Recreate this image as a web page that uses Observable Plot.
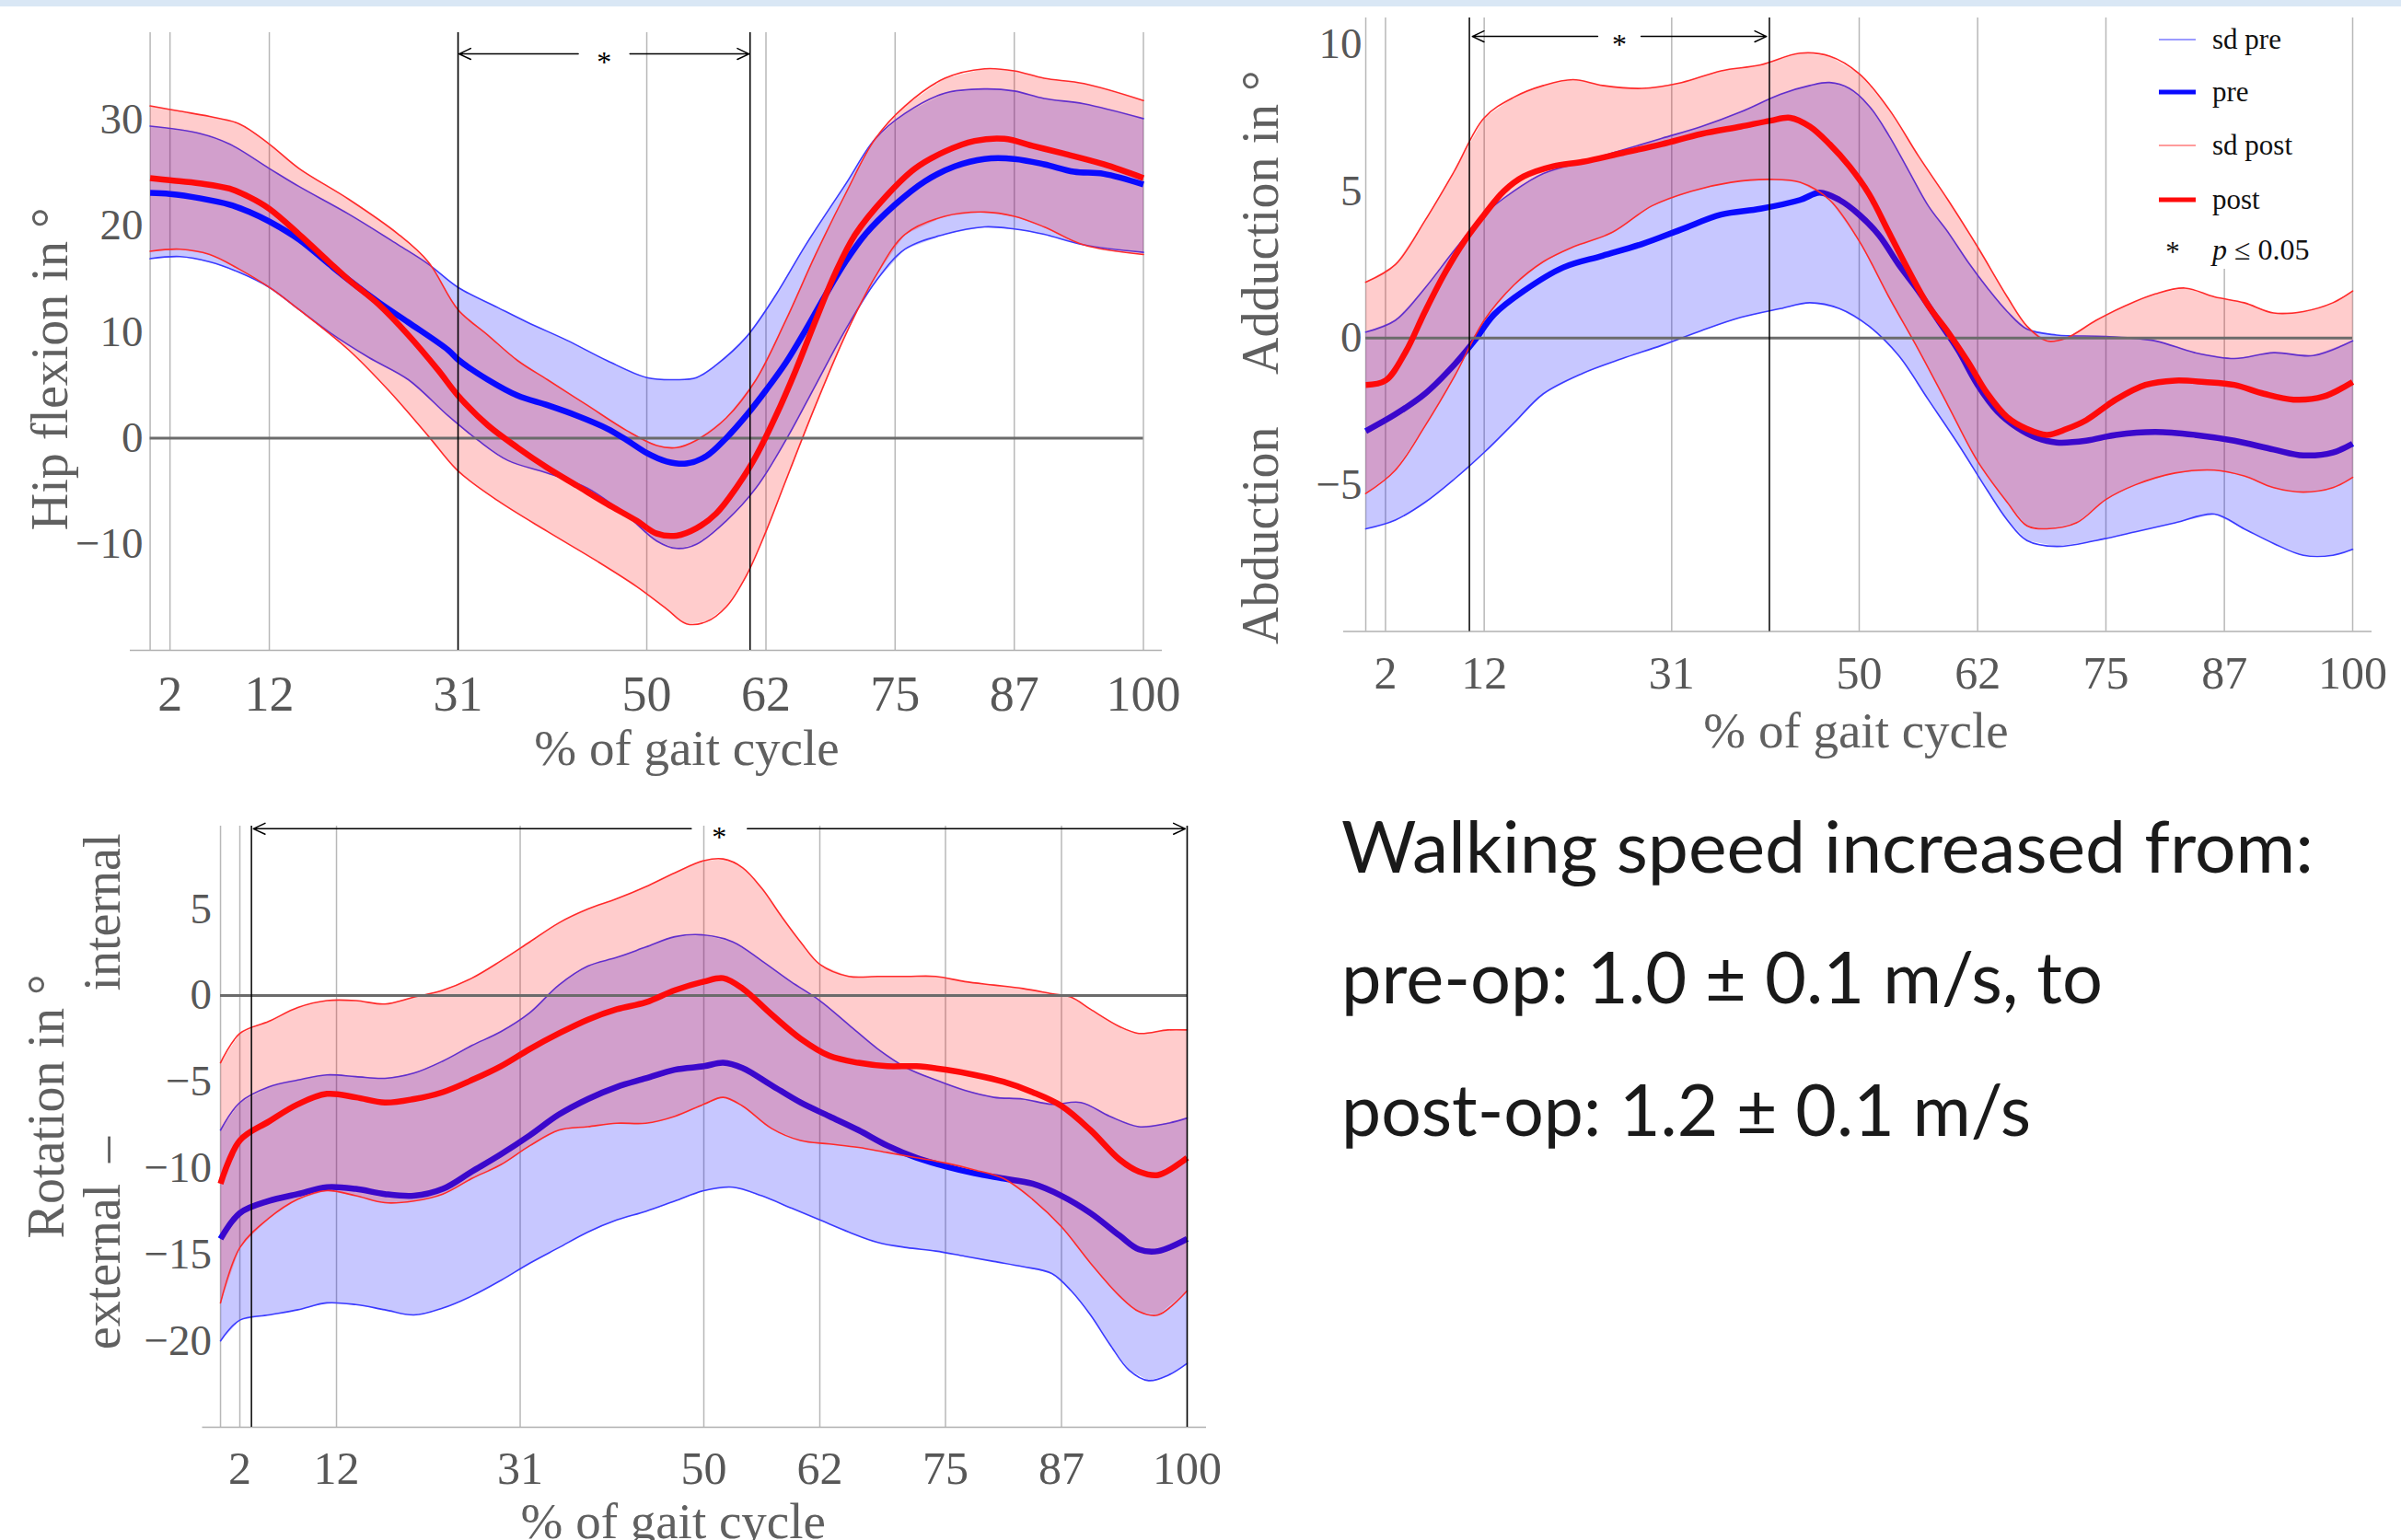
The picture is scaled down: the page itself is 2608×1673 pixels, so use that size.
<!DOCTYPE html>
<html>
<head>
<meta charset="utf-8">
<script src="https://cdn.jsdelivr.net/npm/d3@7"></script>
<script src="https://cdn.jsdelivr.net/npm/@observablehq/plot@0.6"></script>
<style>
  html, body { margin: 0; padding: 0; background: #ffffff; }
  body { width: 2608px; height: 1673px; position: relative; overflow: hidden; }
  .panel { position: absolute; }
  .strip { position: absolute; left: 0; top: 0; width: 2608px; height: 7px; background: #d9e7f5; }
</style>
</head>
<body>
<div class="strip"></div>
<div id="p1" class="panel" style="left:0px;top:0px"></div>
<div id="p2" class="panel" style="left:1300px;top:0px"></div>
<div id="p3" class="panel" style="left:0px;top:850px"></div>
<svg id="legend" style="position:absolute;left:2290px;top:16px" width="262" height="276"></svg>
<svg id="note" style="position:absolute;left:0;top:0;pointer-events:none" width="2608" height="1673"></svg>
<script>
// ---------------- DATA ----------------
const gridX = [0, 2, 12, 31, 50, 62, 75, 87, 100];
const tickX = [2, 12, 31, 50, 62, 75, 87, 100];

// Panel 1: hip flexion
const hipTicks = [-10, 0, 10, 20, 30];
const hipSig = [31, 60.4];
const hipPre = [[0,23.1],[2,23.0],[5,22.6],[8,22.0],[10,21.3],[12,20.4],[15,18.7],[18,16.4],[20,14.9],[23,12.8],[26,10.9],[30,8.3],[31,7.4],[34,5.5],[37,4.0],[40,3.1],[43,2.1],[46,0.9],[48,-0.2],[50,-1.4],[52,-2.2],[54,-2.4],[56,-1.7],[58,0],[60,2.1],[62,4.5],[64,7.1],[66,10.2],[68,13.5],[70,16.6],[72,19.2],[75,22.0],[78,24.2],[81,25.6],[84,26.3],[87,26.3],[90,25.8],[93,25.1],[96,24.9],[100,23.9]];
const hipPost = [[0,24.5],[2,24.3],[5,24.0],[8,23.5],[10,22.7],[12,21.6],[15,19.2],[18,16.6],[20,14.9],[23,12.6],[26,9.7],[29,6.4],[31,4.0],[34,1.2],[37,-0.9],[40,-2.8],[43,-4.5],[46,-6.2],[49,-7.8],[51,-9.0],[53,-9.2],[55,-8.5],[57,-7.1],[59,-4.7],[61,-1.7],[63,2.1],[65,6.4],[67,11.1],[69,15.6],[71,19.2],[74,22.7],[77,25.4],[80,27.0],[83,28.0],[86,28.2],[89,27.5],[92,26.8],[96,25.8],[100,24.5]];
const hipPreUp = [[0,29.4],[5,28.7],[8,27.7],[12,25.4],[15,23.7],[20,21.1],[25,18.2],[28,16.4],[31,14.2],[35,12.3],[38,10.9],[42,9.2],[46,7.3],[50,5.7],[53,5.5],[55,5.7],[57,6.9],[60,9.5],[63,13.5],[66,18.2],[70,23.9],[73,28.2],[76,30.6],[80,32.5],[84,32.9],[87,32.7],[90,32.0],[94,31.5],[100,30.1]];
const hipPreLo = [[0,16.9],[3,17.1],[6,16.6],[9,15.6],[12,14.2],[15,12.1],[18,10.0],[22,7.6],[26,5.5],[30,2.1],[33,-0.2],[36,-2.1],[40,-3.3],[44,-4.7],[48,-7.3],[51,-9.7],[53,-10.4],[55,-10.0],[58,-7.8],[61,-4.7],[64,-0.2],[67,5.0],[70,10.2],[73,14.7],[76,17.8],[80,19.2],[84,19.9],[87,19.7],[90,19.2],[94,18.2],[100,17.5]];
const hipPostUp = [[0,31.3],[3,30.8],[6,30.3],[9,29.6],[12,27.7],[15,25.4],[20,22.5],[25,19.2],[28,16.6],[31,12.1],[34,9.7],[37,7.3],[40,5.5],[44,3.1],[48,0.7],[51,-0.7],[53,-0.9],[55,-0.2],[58,1.9],[61,5.5],[64,11.1],[67,17.3],[70,23.0],[73,28.2],[76,31.3],[80,33.9],[84,34.8],[87,34.6],[90,33.9],[94,33.4],[100,31.8]];
const hipPostLo = [[0,17.6],[3,17.8],[6,17.3],[9,15.9],[12,14.2],[15,12.1],[20,8.3],[24,4.5],[28,0.2],[31,-3.1],[35,-5.9],[40,-8.8],[45,-11.6],[49,-14.0],[52,-16.1],[54,-17.5],[56,-17.3],[58,-15.9],[60,-13.0],[62,-8.8],[64,-4.0],[67,3.1],[70,9.7],[73,15.2],[76,19.2],[80,20.9],[84,21.3],[87,20.9],[90,19.9],[94,18.2],[100,17.3]];

// Panel 2: abduction / adduction
const abdTicks = [-5, 0, 5, 10];
const abdSig = [10.5, 40.9];
const abdPre = [[0,-3.17],[3,-2.6],[6,-1.9],[9,-0.9],[11,-0.1],[13,0.8],[16,1.6],[20,2.4],[24,2.8],[28,3.2],[32,3.7],[36,4.2],[40,4.4],[44,4.7],[46,4.95],[48,4.7],[50,4.2],[52,3.5],[54,2.5],[56,1.6],[58,0.6],[60,-0.4],[62,-1.6],[64,-2.5],[66,-3.05],[68,-3.4],[70,-3.56],[73,-3.5],[76,-3.3],[80,-3.2],[84,-3.3],[88,-3.5],[92,-3.8],[95,-4.0],[98,-3.9],[100,-3.6]];
const abdPost = [[0,-1.6],[2,-1.45],[4,-0.5],[6,0.9],[8,2.2],[10,3.3],[12,4.2],[14,5.0],[16,5.5],[19,5.85],[22,6.0],[26,6.3],[30,6.6],[34,6.95],[38,7.2],[41,7.4],[43,7.5],[45,7.2],[47,6.6],[49,5.85],[51,4.9],[53,3.6],[55,2.3],[57,1.1],[59,0.2],[61,-0.8],[63,-1.9],[65,-2.7],[67,-3.1],[69,-3.3],[71,-3.1],[73,-2.8],[76,-2.1],[79,-1.6],[82,-1.45],[85,-1.5],[88,-1.6],[91,-1.9],[94,-2.1],[97,-2.0],[100,-1.5]];
const abdPreUp = [[0,0.2],[3,0.6],[6,1.7],[9,3.0],[12,4.2],[15,5.0],[18,5.6],[22,6.0],[26,6.4],[30,6.8],[34,7.2],[38,7.7],[42,8.3],[45,8.6],[47,8.7],[49,8.5],[51,7.9],[53,6.9],[55,5.7],[57,4.5],[59,3.6],[61,2.6],[63,1.7],[65,0.9],[67,0.3],[70,0.1],[75,0.05],[80,-0.1],[84,-0.5],[88,-0.7],[92,-0.5],[96,-0.6],[100,-0.1]];
const abdPreLo = [[0,-6.5],[3,-6.2],[6,-5.6],[9,-4.8],[12,-3.9],[15,-2.9],[18,-1.9],[22,-1.2],[26,-0.7],[30,-0.25],[34,0.25],[38,0.7],[42,1.0],[45,1.2],[48,1.0],[51,0.4],[54,-0.6],[57,-2.1],[60,-3.6],[63,-5.2],[65,-6.2],[67,-6.9],[70,-7.1],[74,-6.9],[78,-6.6],[82,-6.3],[86,-6.0],[89,-6.5],[92,-7.0],[95,-7.4],[98,-7.4],[100,-7.2]];
const abdPostUp = [[0,1.9],[3,2.5],[6,4.0],[9,5.7],[12,7.5],[15,8.2],[18,8.6],[21,8.8],[24,8.6],[28,8.5],[32,8.7],[36,9.1],[40,9.3],[44,9.7],[47,9.6],[50,9.0],[53,7.8],[56,6.2],[59,4.7],[62,3.1],[65,1.4],[67,0.4],[69,-0.1],[71,0.0],[74,0.6],[77,1.1],[80,1.5],[83,1.7],[86,1.4],[89,1.2],[92,0.85],[95,0.9],[98,1.2],[100,1.6]];
const abdPostLo = [[0,-5.3],[3,-4.5],[6,-3.0],[9,-1.3],[12,0.6],[15,1.8],[18,2.6],[21,3.1],[25,3.6],[29,4.5],[33,5.0],[37,5.3],[41,5.4],[44,5.3],[47,4.7],[50,3.3],[53,1.4],[56,-0.4],[59,-2.3],[62,-4.2],[65,-5.6],[67,-6.4],[69,-6.5],[72,-6.3],[75,-5.5],[78,-5.0],[82,-4.6],[86,-4.5],[89,-4.7],[92,-5.1],[95,-5.25],[98,-5.1],[100,-4.75]];

// Panel 3: rotation
const rotTicks = [-20, -15, -10, -5, 0, 5];
const rotSig = [3.2, 100];
const rotPre = [[0,-14.1],[2,-12.6],[5,-11.9],[8,-11.5],[11,-11.1],[14,-11.2],[17,-11.5],[20,-11.6],[23,-11.2],[26,-10.2],[29,-9.2],[32,-8.1],[35,-6.9],[38,-6.0],[41,-5.3],[44,-4.8],[47,-4.3],[50,-4.1],[52,-3.9],[54,-4.2],[57,-5.2],[60,-6.2],[63,-7.0],[66,-7.8],[69,-8.7],[72,-9.4],[75,-9.9],[78,-10.3],[81,-10.6],[84,-10.9],[87,-11.6],[90,-12.6],[93,-13.9],[95,-14.7],[97,-14.8],[100,-14.1]];
const rotPost = [[0,-10.9],[2,-8.4],[5,-7.3],[8,-6.3],[11,-5.7],[14,-5.9],[17,-6.2],[20,-6.0],[23,-5.6],[26,-4.9],[29,-4.1],[32,-3.1],[35,-2.2],[38,-1.4],[41,-0.8],[44,-0.4],[47,0.3],[50,0.8],[52,1.0],[54,0.4],[57,-1.1],[60,-2.5],[63,-3.5],[66,-3.9],[69,-4.1],[72,-4.1],[75,-4.3],[78,-4.6],[81,-5.0],[84,-5.6],[87,-6.4],[90,-7.8],[93,-9.5],[95,-10.2],[97,-10.4],[100,-9.4]];
const rotPreUp = [[0,-7.8],[2,-6.2],[5,-5.3],[8,-4.9],[11,-4.6],[14,-4.7],[17,-4.8],[20,-4.5],[23,-3.8],[26,-2.9],[29,-2.1],[32,-1.0],[35,0.6],[38,1.7],[41,2.2],[44,2.8],[47,3.4],[50,3.5],[53,3.1],[56,2.0],[59,0.8],[62,-0.3],[65,-1.7],[68,-3.1],[71,-4.2],[74,-4.9],[77,-5.5],[80,-5.9],[83,-6.0],[86,-6.3],[89,-6.2],[92,-7.0],[95,-7.6],[98,-7.4],[100,-7.1]];
const rotPreLo = [[0,-20.0],[2,-18.8],[5,-18.5],[8,-18.2],[11,-17.8],[14,-17.9],[17,-18.2],[20,-18.5],[23,-18.1],[26,-17.4],[29,-16.5],[32,-15.5],[35,-14.6],[38,-13.7],[41,-13.0],[44,-12.5],[47,-11.9],[50,-11.3],[53,-11.1],[56,-11.6],[59,-12.3],[62,-13.0],[65,-13.7],[68,-14.3],[71,-14.6],[74,-14.8],[77,-15.1],[80,-15.4],[83,-15.7],[86,-16.1],[88,-17.1],[90,-18.5],[92,-20.2],[94,-21.7],[96,-22.3],[98,-22.0],[100,-21.3]];
const rotPostUp = [[0,-3.9],[2,-2.2],[5,-1.5],[8,-0.7],[11,-0.3],[14,-0.3],[17,-0.5],[20,-0.1],[23,0.3],[26,1.0],[29,2.0],[32,3.1],[35,4.2],[38,5.0],[41,5.6],[44,6.3],[47,7.1],[50,7.8],[52,7.9],[54,7.4],[56,6.2],[58,4.6],[60,3.1],[62,1.8],[65,1.1],[68,1.1],[71,1.1],[74,1.1],[77,0.8],[80,0.6],[83,0.4],[86,0.1],[88,-0.1],[90,-0.8],[93,-1.8],[95,-2.2],[98,-2.0],[100,-2.0]];
const rotPostLo = [[0,-17.8],[2,-14.6],[5,-12.9],[8,-11.8],[11,-11.3],[14,-11.6],[17,-12.0],[20,-11.9],[23,-11.5],[26,-10.6],[29,-9.8],[32,-8.7],[35,-7.8],[38,-7.6],[41,-7.4],[44,-7.4],[47,-7.0],[50,-6.3],[52,-5.9],[54,-6.4],[57,-7.7],[60,-8.4],[63,-8.6],[66,-8.8],[69,-9.1],[72,-9.4],[75,-9.7],[78,-10.1],[81,-10.6],[84,-11.8],[87,-13.4],[90,-15.5],[93,-17.4],[95,-18.3],[97,-18.5],[100,-17.1]];

const legendLabels = ["sd pre", "pre", "sd post", "post"];
const noteLines = ["Walking speed increased from:", "pre-op: 1.0 \u00b1 0.1 m/s, to", "post-op: 1.2 \u00b1 0.1 m/s"];

// ---------------- STYLE / LAYOUT ----------------
const C = {
  preFill: "rgba(0,0,255,0.22)", postFill: "rgba(255,0,0,0.2)",
  preEdge: "#3a3aff", postEdge: "#ff2a2a",
  preLine: "#0a0aff", postLine: "#ff0a0a",
  grid: "#b8b8b8", zero: "#6b6b6b", axisText: "#575757", title: "#606060"
};
const SERIF = "'Liberation Serif', 'DejaVu Serif', serif";

function band(up, lo, fill) {
  return Plot.line(up.concat(lo.slice().reverse()), {x: d => d[0], y: d => d[1], fill, stroke: "none", curve: "linear"});
}
function edge(data, stroke) {
  return Plot.line(data, {x: d => d[0], y: d => d[1], stroke, strokeWidth: 1.6, curve: "catmull-rom"});
}
function mean(data, stroke) {
  return Plot.line(data, {x: d => d[0], y: d => d[1], stroke, strokeWidth: 6.5, curve: "catmull-rom", strokeLinecap: "butt"});
}

function panel(cfg) {
  const mid = (cfg.sig[0] + cfg.sig[1]) / 2;
  const arrows = [
    {x1: mid - cfg.gap, x2: cfg.sig[0] + cfg.tipInset},
    {x1: mid + cfg.gap, x2: cfg.sig[1] - cfg.tipInset}
  ];
  const marks = [
    Plot.ruleX(gridX, {stroke: C.grid, strokeWidth: 1.5}),
    Plot.ruleY([cfg.yDomain[0]], {stroke: "#b0b0b0", strokeWidth: 1.5}),
    band(cfg.preUp, cfg.preLo, C.preFill),
    edge(cfg.preUp, C.preEdge), edge(cfg.preLo, C.preEdge)
  ];
  if (cfg.linesOnTop) {
    marks.push(band(cfg.postUp, cfg.postLo, C.postFill), edge(cfg.postUp, C.postEdge), edge(cfg.postLo, C.postEdge),
      Plot.ruleY([0], {x1: 0, x2: 100, stroke: C.zero, strokeWidth: 3}),
      mean(cfg.pre, C.preLine), mean(cfg.post, C.postLine));
  } else {
    marks.push(mean(cfg.pre, C.preLine),
      band(cfg.postUp, cfg.postLo, C.postFill), edge(cfg.postUp, C.postEdge), edge(cfg.postLo, C.postEdge),
      Plot.ruleY([0], {x1: 0, x2: 100, stroke: C.zero, strokeWidth: 3}),
      mean(cfg.post, C.postLine));
  }
  marks.push(
    Plot.ruleX(cfg.sig, {stroke: "#000", strokeWidth: 1.5}),
    Plot.arrow(arrows, {x1: "x1", x2: "x2", y1: () => cfg.arrowY, y2: () => cfg.arrowY, stroke: "#000", strokeWidth: 1.5, headLength: 14, headAngle: 50}),
    Plot.text([mid], {x: d => d, y: () => cfg.arrowY, text: () => "*", fontSize: 32, dy: 9, fill: "#000", fontFamily: SERIF}),
    Plot.axisX(tickX, {tickSize: 0, tickPadding: cfg.xPad, fontSize: cfg.xFont, color: C.axisText, label: null, fontFamily: SERIF}),
    Plot.axisY(cfg.yTicks, {tickSize: 0, tickPadding: -cfg.yShift, fontSize: 47, color: C.axisText, label: null, fontFamily: SERIF}),
    Plot.text(["% of gait cycle"], {frameAnchor: "bottom", lineAnchor: "middle", textAnchor: "middle", dx: cfg.xTitleDx, dy: cfg.xTitleDy, text: d => d, fontSize: 55, fill: C.title, fontFamily: SERIF})
  );
  for (const t of cfg.yTitles) {
    marks.push(Plot.text([t.text], {frameAnchor: "left", textAnchor: "middle", lineAnchor: "middle", rotate: -90, dx: t.dx, dy: t.dy, text: d => d, fontSize: 56, fill: C.title, fontFamily: SERIF}));
  }
  return Plot.plot({
    width: cfg.width, height: cfg.height,
    marginLeft: cfg.m[0], marginRight: cfg.m[1], marginTop: cfg.m[2], marginBottom: cfg.m[3],
    x: {domain: cfg.xDomain}, y: {domain: cfg.yDomain},
    style: {fontFamily: SERIF, background: "transparent", overflow: "visible"},
    marks
  });
}

document.getElementById("p1").append(panel({
  width: 1300, height: 850, m: [141, 38, 35, 144],
  xDomain: [-2, 101.9], yDomain: [-20, 38.2], yTicks: hipTicks,
  pre: hipPre, post: hipPost, preUp: hipPreUp, preLo: hipPreLo, postUp: hipPostUp, postLo: hipPostLo,
  sig: hipSig, arrowY: 36.2, gap: 2.6, tipInset: 0.1, linesOnTop: true,
  xPad: 27, xFont: 54, yShift: 14, xTitleDx: 44, xTitleDy: 107,
  yTitles: [{text: "Hip flexion in \u00b0", dx: -86, dy: 30}]
}));

document.getElementById("p2").append(panel({
  width: 1308, height: 850, m: [159, 32, 19, 164.4],
  xDomain: [-2.24, 101.96], yDomain: [-10, 10.9], yTicks: abdTicks,
  pre: abdPre, post: abdPost, preUp: abdPreUp, preLo: abdPreLo, postUp: abdPostUp, postLo: abdPostLo,
  sig: abdSig, arrowY: 10.27, gap: 2.2, tipInset: 0.3, linesOnTop: false,
  xPad: 26, xFont: 50, yShift: 20, xTitleDx: -2, xTitleDy: 108,
  yTitles: [{text: "Adduction in \u00b0", dx: -89, dy: -111}, {text: "Abduction", dx: -89, dy: 229}]
}));

document.getElementById("p3").append(panel({
  width: 1350, height: 823, m: [219.5, 40, 47, 123],
  xDomain: [-1.86, 102], yDomain: [-25, 9.8], yTicks: rotTicks,
  pre: rotPre, post: rotPost, preUp: rotPreUp, preLo: rotPreLo, postUp: rotPostUp, postLo: rotPostLo,
  sig: rotSig, arrowY: 9.65, gap: 2.9, tipInset: 0.2, linesOnTop: false,
  xPad: 26, xFont: 50, yShift: 10, xTitleDx: -34, xTitleDy: 103,
  yTitles: [
    {text: "Rotation in \u00b0", dx: -169, dy: -22},
    {text: "external", dx: -108, dy: 152},
    {text: "\u2013", dx: -106, dy: 25},
    {text: "internal", dx: -108, dy: -233}
  ]
}));

// ---------------- LEGEND ----------------
(function () {
  const svg = d3.select("#legend");
  svg.append("rect").attr("x", 0).attr("y", 0).attr("width", 262).attr("height", 276).attr("fill", "#fff");
  const rows = [
    {y: 27, stroke: "#7a7aff", w: 1.5},
    {y: 84, stroke: "#0a0aff", w: 5},
    {y: 142, stroke: "#ff7a7a", w: 1.5},
    {y: 201, stroke: "#ff0a0a", w: 5}
  ];
  rows.forEach((r, i) => {
    svg.append("line").attr("x1", 55).attr("x2", 95).attr("y1", r.y).attr("y2", r.y).attr("stroke", r.stroke).attr("stroke-width", r.w);
    svg.append("text").attr("x", 113).attr("y", r.y + 10).attr("font-family", SERIF).attr("font-size", 31).attr("fill", "#111").text(legendLabels[i]);
  });
  svg.append("text").attr("x", 70).attr("y", 268).attr("text-anchor", "middle").attr("font-family", SERIF).attr("font-size", 31).attr("fill", "#111").text("*");
  const t = svg.append("text").attr("x", 113).attr("y", 266).attr("font-family", SERIF).attr("font-size", 32).attr("fill", "#111");
  t.append("tspan").attr("font-style", "italic").text("p");
  t.append("tspan").text(" \u2264 0.05");
})();

// ---------------- NOTE TEXT ----------------
(function () {
  const svg = d3.select("#note");
  const base = [948, 1090, 1234];
  const lens = [1056, 827, 749];
  noteLines.forEach((s, i) => {
    svg.append("text").attr("x", 1457).attr("y", base[i])
      .attr("font-family", "Lato, 'Open Sans', sans-serif").attr("font-size", 77).attr("fill", "#1a1a1a")
      .attr("textLength", lens[i]).attr("lengthAdjust", "spacingAndGlyphs").text(s);
  });
})();
</script>
</body>
</html>
